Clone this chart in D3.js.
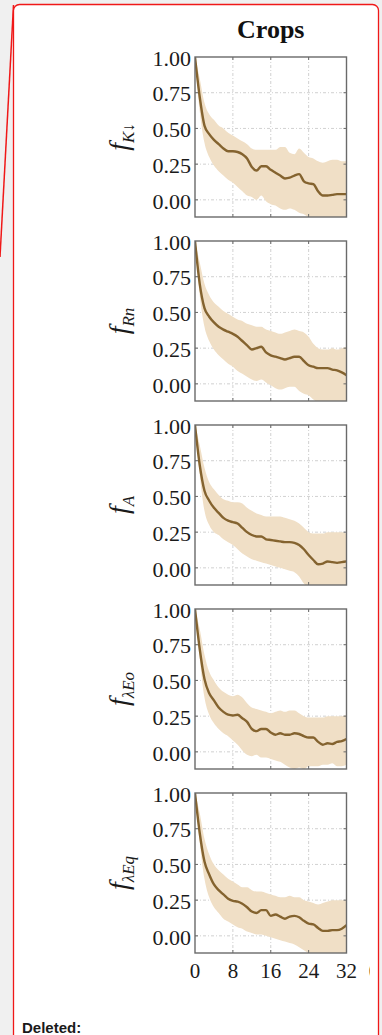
<!DOCTYPE html>
<html>
<head>
<meta charset="utf-8">
<script src="https://cdn.jsdelivr.net/npm/d3@7"></script>
<style>
  html, body { margin: 0; padding: 0; background: #f0f0f0; }
  svg { display: block; }
</style>
</head>
<body>
<svg id="page" width="382" height="1035"></svg>
<script>
// Lag (x) shared by every panel
const lags = d3.range(0, 33);
const xTicks = [0, 8, 16, 24, 32];
const yTicks = [0, 0.25, 0.5, 0.75, 1.0];
const yTickLabels = ["0.00", "0.25", "0.50", "0.75", "1.00"];

const title = "Crops";
const panelNames = ["K↓", "Rn", "A", "λEo", "λEq"];

// Mean curves
const meanK = [1.0,0.72,0.52,0.46,0.42,0.39,0.36,0.34,0.34,0.335,0.32,0.29,0.23,0.205,0.235,0.235,0.21,0.19,0.17,0.15,0.155,0.17,0.18,0.13,0.115,0.11,0.06,0.03,0.03,0.035,0.04,0.04,0.04];
const meanRn = [1.0,0.70,0.53,0.47,0.43,0.40,0.38,0.365,0.35,0.33,0.30,0.27,0.24,0.25,0.26,0.22,0.20,0.19,0.18,0.17,0.18,0.19,0.19,0.16,0.13,0.12,0.11,0.11,0.11,0.10,0.095,0.08,0.06];
const meanA = [1.0,0.72,0.54,0.47,0.42,0.385,0.35,0.33,0.32,0.31,0.28,0.25,0.23,0.22,0.22,0.20,0.195,0.19,0.185,0.18,0.18,0.175,0.16,0.13,0.09,0.055,0.025,0.03,0.045,0.04,0.035,0.04,0.045];
const meanEo = [1.0,0.72,0.51,0.41,0.36,0.31,0.28,0.26,0.255,0.26,0.235,0.21,0.16,0.145,0.16,0.16,0.135,0.12,0.13,0.12,0.12,0.13,0.125,0.11,0.10,0.10,0.07,0.05,0.06,0.055,0.07,0.075,0.09];
const meanEq = [1.0,0.72,0.52,0.43,0.36,0.32,0.29,0.26,0.245,0.24,0.225,0.20,0.17,0.16,0.18,0.18,0.14,0.15,0.135,0.12,0.135,0.14,0.13,0.105,0.085,0.08,0.055,0.035,0.035,0.04,0.04,0.05,0.075];

// Upper edges of the spread band
const upperK = [1.0,0.85,0.68,0.60,0.56,0.52,0.50,0.47,0.45,0.43,0.41,0.39,0.36,0.35,0.35,0.35,0.35,0.35,0.37,0.37,0.33,0.32,0.36,0.33,0.30,0.29,0.27,0.26,0.27,0.28,0.28,0.27,0.27];
const upperRn = [1.0,0.85,0.70,0.62,0.57,0.54,0.51,0.49,0.47,0.45,0.44,0.42,0.41,0.40,0.40,0.38,0.37,0.36,0.35,0.36,0.37,0.38,0.37,0.36,0.33,0.28,0.25,0.24,0.24,0.25,0.24,0.25,0.26];
const upperA = [1.0,0.86,0.70,0.60,0.55,0.51,0.48,0.47,0.46,0.46,0.45,0.42,0.40,0.38,0.37,0.36,0.36,0.36,0.36,0.35,0.34,0.33,0.31,0.28,0.25,0.24,0.24,0.24,0.25,0.25,0.25,0.25,0.24];
const upperEo = [1.0,0.86,0.68,0.56,0.50,0.45,0.42,0.40,0.39,0.40,0.38,0.34,0.31,0.30,0.29,0.28,0.27,0.28,0.29,0.28,0.29,0.29,0.27,0.25,0.24,0.24,0.24,0.24,0.25,0.25,0.25,0.25,0.26];
const upperEq = [1.0,0.86,0.68,0.57,0.50,0.46,0.43,0.40,0.38,0.36,0.34,0.34,0.32,0.31,0.31,0.30,0.29,0.28,0.27,0.27,0.28,0.27,0.27,0.25,0.24,0.23,0.22,0.23,0.24,0.25,0.25,0.25,0.25];

// Lower edges of the spread band
const lowerK = [1.0,0.62,0.40,0.30,0.24,0.20,0.17,0.14,0.12,0.09,0.06,0.03,0.02,0.00,0.03,-0.01,-0.03,-0.04,-0.06,-0.07,-0.06,-0.07,-0.09,-0.10,-0.12,-0.13,-0.15,-0.16,-0.17,-0.17,-0.17,-0.17,-0.17];
const lowerRn = [1.0,0.62,0.40,0.30,0.24,0.20,0.17,0.14,0.12,0.09,0.07,0.05,0.03,0.02,0.03,0.01,-0.01,-0.03,-0.04,-0.03,-0.02,-0.02,-0.05,-0.07,-0.08,-0.11,-0.13,-0.14,-0.15,-0.15,-0.15,-0.15,-0.15];
const lowerA = [1.0,0.65,0.40,0.30,0.25,0.23,0.20,0.18,0.16,0.13,0.10,0.08,0.06,0.05,0.04,0.03,0.02,0.01,0.00,-0.01,-0.02,-0.03,-0.06,-0.11,-0.14,-0.16,-0.17,-0.17,-0.17,-0.17,-0.17,-0.17,-0.17];
const lowerEo = [1.0,0.65,0.38,0.26,0.20,0.16,0.13,0.11,0.08,0.05,0.01,-0.02,-0.03,-0.02,-0.04,-0.04,-0.05,-0.06,-0.07,-0.09,-0.11,-0.12,-0.11,-0.12,-0.10,-0.10,-0.10,-0.09,-0.09,-0.08,-0.10,-0.10,-0.09];
const lowerEq = [1.0,0.65,0.40,0.27,0.20,0.16,0.12,0.10,0.08,0.06,0.05,0.03,0.02,0.01,0.01,0.00,-0.01,-0.02,-0.03,-0.04,-0.05,-0.06,-0.08,-0.10,-0.12,-0.14,-0.16,-0.17,-0.17,-0.17,-0.17,-0.17,-0.17];

const panels = [
  { name: panelNames[0], mean: meanK,  upper: upperK,  lower: lowerK },
  { name: panelNames[1], mean: meanRn, upper: upperRn, lower: lowerRn },
  { name: panelNames[2], mean: meanA,  upper: upperA,  lower: lowerA },
  { name: panelNames[3], mean: meanEo, upper: upperEo, lower: lowerEo },
  { name: panelNames[4], mean: meanEq, upper: upperEq, lower: lowerEq }
];

const serif = "'Liberation Serif', 'DejaVu Serif', serif";
const lineColor = "#84632f";
const bandColor = "#f0dfc6";
const frameColor = "#6a6a6a";

const svg = d3.select("#page");

// Page card with red review outline
svg.append("rect").attr("x", 0).attr("y", 0).attr("width", 382).attr("height", 1035).attr("fill", "#f0f0f0");
svg.append("rect")
  .attr("x", 13.5).attr("y", 4.5).attr("width", 365).attr("height", 1050)
  .attr("rx", 6).attr("fill", "#ffffff")
  .attr("stroke", "#f01818").attr("stroke-width", 1.3);
svg.append("line")
  .attr("x1", 13.5).attr("y1", 5).attr("x2", 0).attr("y2", 257)
  .attr("stroke", "#f01818").attr("stroke-width", 1.5);

svg.append("text")
  .attr("x", 22).attr("y", 1033)
  .attr("font-family", "'Liberation Sans', Arial, sans-serif")
  .attr("font-weight", "bold").attr("font-size", 15).attr("fill", "#1a1a1a")
  .text("Deleted:");

// Chart area, clipped at the right where the next column begins
const defs = svg.append("defs");
defs.append("clipPath").attr("id", "chartClip")
  .append("rect").attr("x", 14).attr("y", 5).attr("width", 356).attr("height", 1000);

const chart = svg.append("g").attr("clip-path", "url(#chartClip)");

const left = 195, right = 346.5;
const panelTop0 = 57, panelH = 160, panelStep = 184;

const x = d3.scaleLinear().domain([0, 32]).range([left, right]);

chart.append("text")
  .attr("x", (left + right) / 2).attr("y", 38)
  .attr("text-anchor", "middle")
  .attr("font-family", serif).attr("font-weight", "bold").attr("font-size", 26)
  .attr("fill", "#111")
  .text(title);

panels.forEach((p, i) => {
  const top = panelTop0 + i * panelStep;
  const bottom = top + panelH;
  const y = d3.scaleLinear().domain([-0.12, 1.0]).range([bottom, top]);
  const g = chart.append("g");

  const clipId = "panelClip" + i;
  defs.append("clipPath").attr("id", clipId)
    .append("rect").attr("x", left).attr("y", top).attr("width", right - left).attr("height", panelH);

  // grid
  g.append("g").selectAll("line.gx").data(xTicks.slice(1, -1)).join("line")
    .attr("x1", d => x(d)).attr("x2", d => x(d)).attr("y1", top).attr("y2", bottom)
    .attr("stroke", "#c4c4c4").attr("stroke-width", 0.8).attr("stroke-dasharray", "3,2,1,2");
  g.append("g").selectAll("line.gy").data(yTicks.slice(0, -1)).join("line")
    .attr("x1", left).attr("x2", right).attr("y1", d => y(d)).attr("y2", d => y(d))
    .attr("stroke", "#c4c4c4").attr("stroke-width", 0.8).attr("stroke-dasharray", "3,2,1,2");

  const plot = g.append("g").attr("clip-path", `url(#${clipId})`);

  const area = d3.area()
    .x((d, k) => x(lags[k]))
    .y0((d, k) => y(p.lower[k]))
    .y1((d, k) => y(p.upper[k]))
    .curve(d3.curveMonotoneX);
  plot.append("path").datum(lags).attr("d", area).attr("fill", bandColor);

  const line = d3.line()
    .x((d, k) => x(lags[k]))
    .y((d, k) => y(p.mean[k]))
    .curve(d3.curveMonotoneX);
  plot.append("path").datum(lags).attr("d", line)
    .attr("fill", "none").attr("stroke", lineColor).attr("stroke-width", 2.4)
    .attr("stroke-linejoin", "round");

  // inward ticks
  const tk = g.append("g").attr("stroke", frameColor).attr("stroke-width", 1);
  xTicks.slice(1, -1).forEach(t => {
    tk.append("line").attr("x1", x(t)).attr("x2", x(t)).attr("y1", bottom).attr("y2", bottom - 3);
    tk.append("line").attr("x1", x(t)).attr("x2", x(t)).attr("y1", top).attr("y2", top + 3);
  });
  yTicks.slice(0, -1).forEach(t => {
    tk.append("line").attr("x1", left).attr("x2", left + 3).attr("y1", y(t)).attr("y2", y(t));
    tk.append("line").attr("x1", right).attr("x2", right - 3).attr("y1", y(t)).attr("y2", y(t));
  });

  // frame
  g.append("rect").attr("x", left).attr("y", top).attr("width", right - left).attr("height", panelH)
    .attr("fill", "none").attr("stroke", frameColor).attr("stroke-width", 1.4);

  // y tick labels
  g.append("g").selectAll("text").data(yTicks).join("text")
    .attr("x", left - 4).attr("y", d => y(d) + 1)
    .attr("dy", "0.35em").attr("text-anchor", "end")
    .attr("font-family", serif).attr("font-size", 22).attr("fill", "#1a1a1a")
    .text((d, k) => yTickLabels[k]);

  // y axis label: f with subscript
  const lab = g.append("text")
    .attr("transform", `translate(128,${(top + bottom) / 2}) rotate(-90)`)
    .attr("text-anchor", "middle")
    .attr("font-family", serif).attr("font-style", "italic").attr("fill", "#1a1a1a");
  lab.append("tspan").attr("font-size", 28).text("f");
  lab.append("tspan").attr("font-size", 17).attr("dy", 6).text(p.name);
});

// x tick labels under the last panel
const lastBottom = panelTop0 + 4 * panelStep + panelH;
chart.append("g").selectAll("text").data(xTicks).join("text")
  .attr("x", d => x(d)).attr("y", lastBottom + 25)
  .attr("text-anchor", "middle")
  .attr("font-family", serif).attr("font-size", 21).attr("fill", "#1a1a1a")
  .text(d => d);
// first tick label of the neighbouring column, cut by the clip
chart.append("text")
  .attr("x", 374).attr("y", lastBottom + 25)
  .attr("text-anchor", "middle")
  .attr("font-family", serif).attr("font-size", 21).attr("fill", "#1a1a1a")
  .text(xTicks[0]);
</script>
</body>
</html>
